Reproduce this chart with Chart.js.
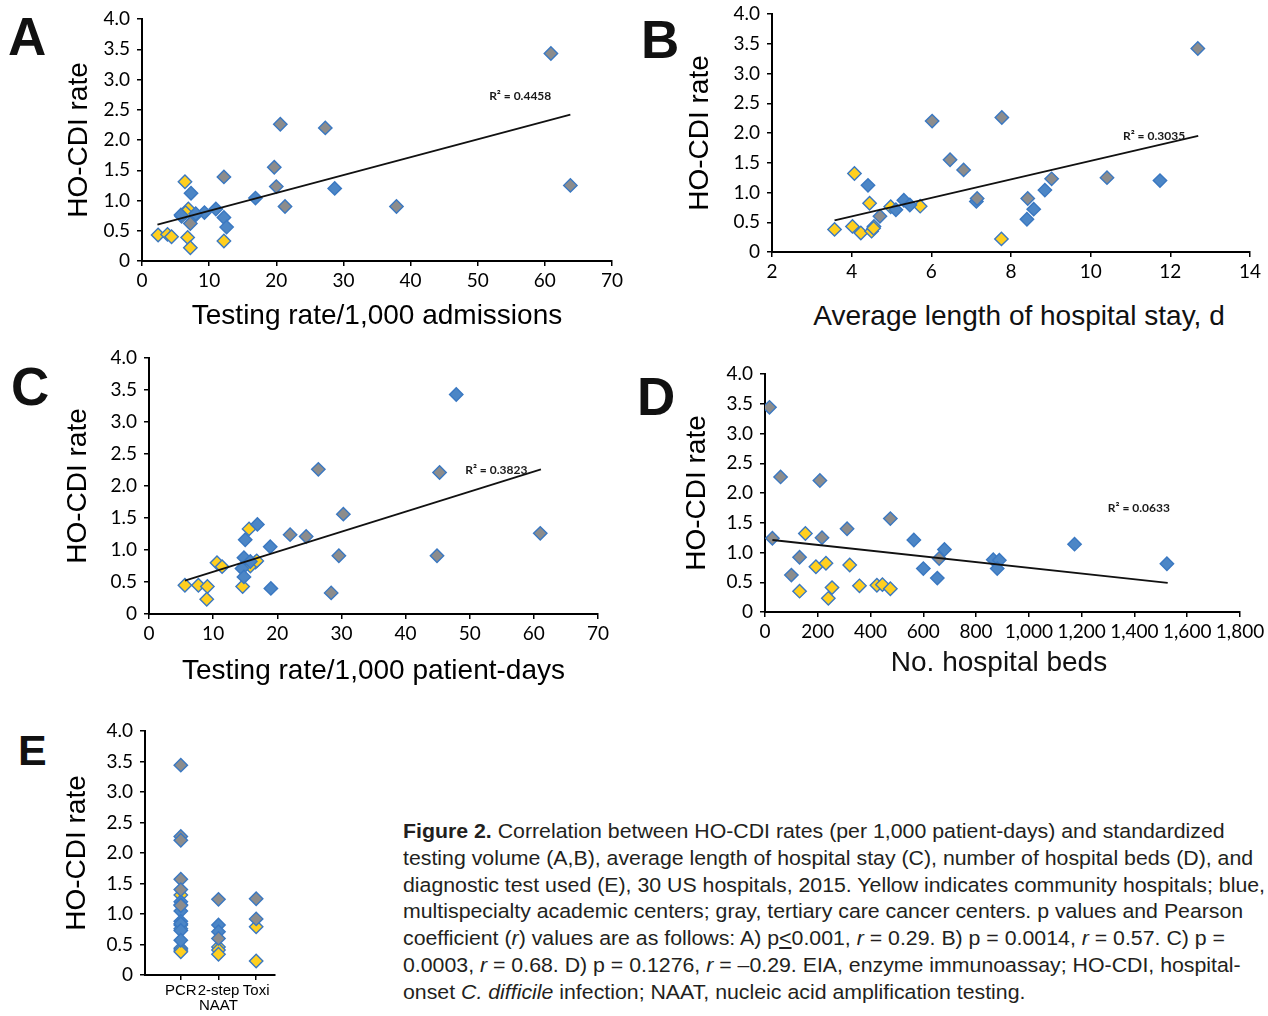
<!DOCTYPE html>
<html>
<head>
<meta charset="utf-8">
<script src="https://cdn.jsdelivr.net/npm/chart.js@4.4.1/dist/chart.umd.min.js"></script>
<style>
  body { margin: 0; width: 1268px; height: 1016px; background: #fff; position: relative; overflow: hidden;
         font-family: "Liberation Sans", Arial, sans-serif; color: #111; }
  canvas { position: absolute; }
  .letter { position: absolute; font-weight: bold; font-size: 53px; line-height: 53px; }
  .xtitle { position: absolute; font-size: 28px; line-height: 28px; transform: translate(-50%, -50%); white-space: nowrap; }
  #caption { position: absolute; left: 403px; top: 818px; font-family: "Liberation Sans", Arial, sans-serif;
             font-size: 20.5px; line-height: 26.8px; white-space: nowrap; color: #231f20; transform-origin: 0 0; }
</style>
</head>
<body>
<div class="letter" style="left:8px;top:10px">A</div>
<div class="letter" style="left:641px;top:13px">B</div>
<div class="letter" style="left:11px;top:360px">C</div>
<div class="letter" style="left:637px;top:370px">D</div>
<div class="letter" style="left:18px;top:729px;font-size:43px;line-height:43px">E</div>

<canvas id="chartA" width="568" height="333" style="left:62px;top:0px"></canvas>
<canvas id="chartB" width="585" height="292" style="left:683px;top:0px"></canvas>
<canvas id="chartC" width="559" height="348" style="left:61px;top:340px"></canvas>
<canvas id="chartD" width="588" height="296" style="left:680px;top:356px"></canvas>
<canvas id="chartE" width="230" height="303" style="left:60px;top:713px"></canvas>

<div class="xtitle" style="left:1019px;top:316px">Average length of hospital stay, d</div>
<div class="xtitle" style="left:999px;top:662px">No. hospital beds</div>

<div id="caption"><b>Figure 2.</b> Correlation between HO-CDI rates (per 1,000 patient-days) and standardized<br>testing volume (A,B), average length of hospital stay (C), number of hospital beds (D), and<br>diagnostic test used (E), 30 US hospitals, 2015. Yellow indicates community hospitals; blue,<br>multispecialty academic centers; gray, tertiary care cancer centers. p values and Pearson<br>coefficient (<i>r</i>) values are as follows: A) p<u>&lt;</u>0.001, <i>r</i> = 0.29. B) p = 0.0014, <i>r</i> = 0.57. C) p =<br>0.0003, <i>r</i> = 0.68. D) p = 0.1276, <i>r</i> = &ndash;0.29. EIA, enzyme immunoassay; HO-CDI, hospital-<br>onset <i>C. difficile</i> infection; NAAT, nucleic acid amplification testing.</div>

<script>
// --- data: [x, HO-CDI rate] per hospital, by hospital type ---
// A: testing rate / 1,000 admissions
const aGray = [[60.9,3.43],[20.6,2.26],[27.3,2.20],[19.7,1.55],[12.2,1.39],[20.0,1.23],[21.3,0.90],[37.9,0.90],[63.8,1.25],[7.2,0.62]];
const aBlue = [[7.3,1.12],[28.7,1.20],[16.9,1.04],[11.0,0.86],[9.3,0.80],[12.2,0.72],[12.6,0.56],[5.8,0.76],[8.0,0.78]];
const aYellow = [[6.4,1.31],[6.9,0.86],[5.9,0.74],[7.8,0.74],[2.4,0.43],[3.8,0.44],[4.4,0.40],[6.8,0.39],[7.2,0.22],[12.2,0.33],[6.5,0.80]];
const aTrend = [[2.3,0.60],[63.8,2.42]];

// B: average length of stay, d
const bGray = [[12.69,3.42],[6.02,2.20],[7.77,2.26],[6.47,1.55],[6.81,1.38],[9.02,1.23],[10.41,1.25],[7.15,0.90],[8.42,0.90],[4.71,0.60]];
const bBlue = [[4.41,1.12],[11.74,1.20],[8.85,1.04],[7.13,0.85],[5.31,0.87],[5.11,0.71],[5.46,0.79],[8.57,0.72],[8.40,0.55]];
const bYellow = [[4.07,1.32],[4.45,0.82],[4.98,0.76],[5.72,0.77],[3.57,0.38],[4.02,0.43],[4.23,0.32],[4.56,0.43],[4.50,0.35],[7.76,0.22],[4.55,0.40]];
const bTrend = [[3.57,0.53],[12.7,1.95]];

// C: testing rate / 1,000 patient-days
const cGray = [[26.4,2.26],[45.3,2.21],[30.3,1.56],[22.0,1.24],[24.5,1.21],[29.6,0.91],[44.9,0.91],[61.0,1.26],[28.4,0.33]];
const cBlue = [[47.9,3.43],[16.9,1.40],[15.0,1.16],[18.9,1.05],[14.8,0.88],[15.8,0.82],[14.5,0.71],[14.8,0.58],[19.0,0.40]];
const cYellow = [[15.6,1.33],[10.6,0.80],[11.4,0.74],[16.6,0.81],[15.8,0.75],[5.6,0.45],[7.7,0.45],[9.1,0.43],[9.0,0.23],[14.6,0.43],[16.8,0.83]];
const cTrend = [[5.6,0.52],[61.1,2.26]];

// D: no. hospital beds
const dGray = [[17,3.44],[59,2.27],[208,2.21],[475,1.57],[311,1.40],[216,1.25],[28,1.24],[131,0.92],[100,0.62],[660,0.90]];
const dBlue = [[564,1.21],[680,1.05],[1173,1.14],[1523,0.81],[865,0.88],[888,0.87],[880,0.73],[600,0.73],[653,0.57]];
const dYellow = [[153,1.32],[193,0.76],[231,0.82],[321,0.79],[131,0.35],[254,0.41],[240,0.23],[358,0.44],[424,0.45],[445,0.46],[475,0.39]];
const dTrend = [[28,1.21],[1526,0.49]];

// E: diagnostic test used, [method, rate]
const eMethods = ['PCR', '2-step NAAT', 'Toxi'];
const eGray = [['PCR',3.44],['PCR',2.27],['PCR',2.21],['PCR',1.57],['PCR',1.40],['PCR',1.14],['2-step NAAT',1.24],['2-step NAAT',0.60],['Toxi',1.25],['Toxi',0.92]];
const eBlue = [['PCR',1.20],['PCR',1.15],['PCR',1.05],['PCR',0.88],['PCR',0.84],['PCR',0.73],['PCR',0.57],['2-step NAAT',0.82],['2-step NAAT',0.71]];
const eYellow = [['PCR',1.31],['PCR',0.82],['PCR',0.76],['PCR',0.44],['PCR',0.41],['PCR',0.38],['2-step NAAT',0.46],['2-step NAAT',0.41],['2-step NAAT',0.34],['Toxi',0.79],['Toxi',0.23]];

const r2Text = { A: 'R² = 0.4458', B: 'R² = 0.3035', C: 'R² = 0.3823', D: 'R² = 0.0633' };
const r2At = { A: [51.7, 2.73], B: [10.81, 1.95], C: [49.3, 2.25], D: [1299, 1.75] };

const yTicks = { min: 0, max: 4, step: 0.5 };

// --- styling ---
const GRAY = '#8c8c8c', BLUE = '#4c86c6', YELLOW = '#ffcf1f', EDGE = '#3a78c2', INK = '#000';
const TITLE_FONT = '"Liberation Sans", Arial, sans-serif';
Chart.defaults.font.family = 'Lato, "Open Sans", sans-serif';
Chart.defaults.color = INK;

const r2Plugin = {
  id: 'r2Label',
  afterDatasetsDraw(chart, args, o) {
    if (!o.text) return;
    const { ctx, scales: { x, y } } = chart;
    ctx.save();
    ctx.font = 'bold 12px Lato, sans-serif';
    ctx.fillStyle = '#1a1a1a';
    ctx.textBaseline = 'middle';
    ctx.fillText(o.text, x.getPixelForValue(o.at[0]), y.getPixelForValue(o.at[1]));
    ctx.restore();
  }
};
Chart.register(r2Plugin);

function pointSet(rows, fill) {
  return {
    type: 'scatter',
    data: rows.map(([x, y]) => ({ x, y })),
    backgroundColor: fill, borderColor: EDGE, borderWidth: 1.4,
    pointStyle: 'rectRot', pointRadius: 6.7, pointHoverRadius: 6.7
  };
}

function trendSet(ends) {
  return {
    type: 'line',
    data: ends.map(([x, y]) => ({ x, y })),
    borderColor: '#111', borderWidth: 1.8, pointRadius: 0, fill: false
  };
}

const axisGrid = { drawOnChartArea: false, drawTicks: true, tickLength: 5, color: INK, lineWidth: 1.5 };
const axisBorder = { color: INK, width: 2 };

function makePanel(id, p) {
  const x = {
    type: 'linear', min: p.xMin, max: p.xMax,
    ticks: { stepSize: p.xStep, padding: 3, maxRotation: 0, autoSkip: false, font: { size: 19 },
             callback: p.xFormat || (v => v) },
    grid: axisGrid, border: axisBorder,
    title: { display: !!p.xTitle, text: p.xTitle, font: { family: TITLE_FONT, size: 28 }, padding: 0 },
    afterFit(s) { s.height = p.xAxisH; s.paddingLeft = 0; s.paddingRight = 0; }
  };
  if (p.xTicks) x.afterBuildTicks = p.xTicks;
  if (p.xFont) x.ticks.font = p.xFont;

  const y = {
    type: 'linear', min: yTicks.min, max: yTicks.max,
    ticks: { stepSize: yTicks.step, padding: 7, font: { size: 19 },
             callback: v => v === 0 ? '0' : v.toFixed(1) },
    grid: axisGrid, border: axisBorder,
    title: { display: true, text: 'HO-CDI rate', font: { family: TITLE_FONT, size: 28 }, padding: 0 },
    afterFit(s) { s.width = p.yAxisW; s.paddingTop = 0; s.paddingBottom = 0; }
  };

  const datasets = [];
  if (p.trend) datasets.push(trendSet(p.trend));
  datasets.push(pointSet(p.gray, GRAY), pointSet(p.blue, BLUE), pointSet(p.yellow, YELLOW));

  return new Chart(document.getElementById(id), {
    type: 'scatter',
    data: { datasets },
    options: {
      responsive: false,
      animation: false,
      layout: { padding: { top: p.padTop, right: p.padRight, left: 0, bottom: 0 } },
      scales: { x, y },
      plugins: {
        legend: { display: false },
        tooltip: { enabled: false },
        r2Label: { text: p.r2 ? r2Text[p.r2] : '', at: p.r2 ? r2At[p.r2] : [0, 0] }
      }
    }
  });
}

makePanel('chartA', { xMin: 0, xMax: 70, xStep: 10, xTitle: 'Testing rate/1,000 admissions',
  yAxisW: 80, xAxisH: 72, padTop: 19, padRight: 18,
  gray: aGray, blue: aBlue, yellow: aYellow, trend: aTrend, r2: 'A' });

makePanel('chartB', { xMin: 2, xMax: 14, xStep: 2, xTitle: '',
  yAxisW: 89, xAxisH: 40, padTop: 14, padRight: 18,
  gray: bGray, blue: bBlue, yellow: bYellow, trend: bTrend, r2: 'B' });

makePanel('chartC', { xMin: 0, xMax: 70, xStep: 10, xTitle: 'Testing rate/1,000 patient-days',
  yAxisW: 88, xAxisH: 74, padTop: 18, padRight: 22,
  gray: cGray, blue: cBlue, yellow: cYellow, trend: cTrend, r2: 'C' });

makePanel('chartD', { xMin: 0, xMax: 1800, xStep: 200, xTitle: '',
  xFormat: v => v.toLocaleString('en-US'),
  yAxisW: 85, xAxisH: 40, padTop: 18, padRight: 28,
  gray: dGray, blue: dBlue, yellow: dYellow, trend: dTrend, r2: 'D' });

const eRows = rows => rows.map(([m, v]) => [eMethods.indexOf(m) + 1, v]);
makePanel('chartE', { xMin: 0.05, xMax: 3.5, xStep: 1, xTitle: '',
  xTicks: s => { s.ticks = eMethods.map((m, i) => ({ value: i + 1 })); },
  xFormat: v => eMethods[v - 1].split(' '),
  xFont: { family: TITLE_FONT, size: 15, lineHeight: 1 },
  yAxisW: 85, xAxisH: 41, padTop: 18, padRight: 15,
  gray: eRows(eGray), blue: eRows(eBlue), yellow: eRows(eYellow) });

// squeeze the caption horizontally to the reference's (narrow-font) line length
const cap = document.getElementById('caption');
const w = cap.getBoundingClientRect().width;
cap.style.transform = 'scaleX(' + (862 / w).toFixed(4) + ')';
</script>
</body>
</html>
